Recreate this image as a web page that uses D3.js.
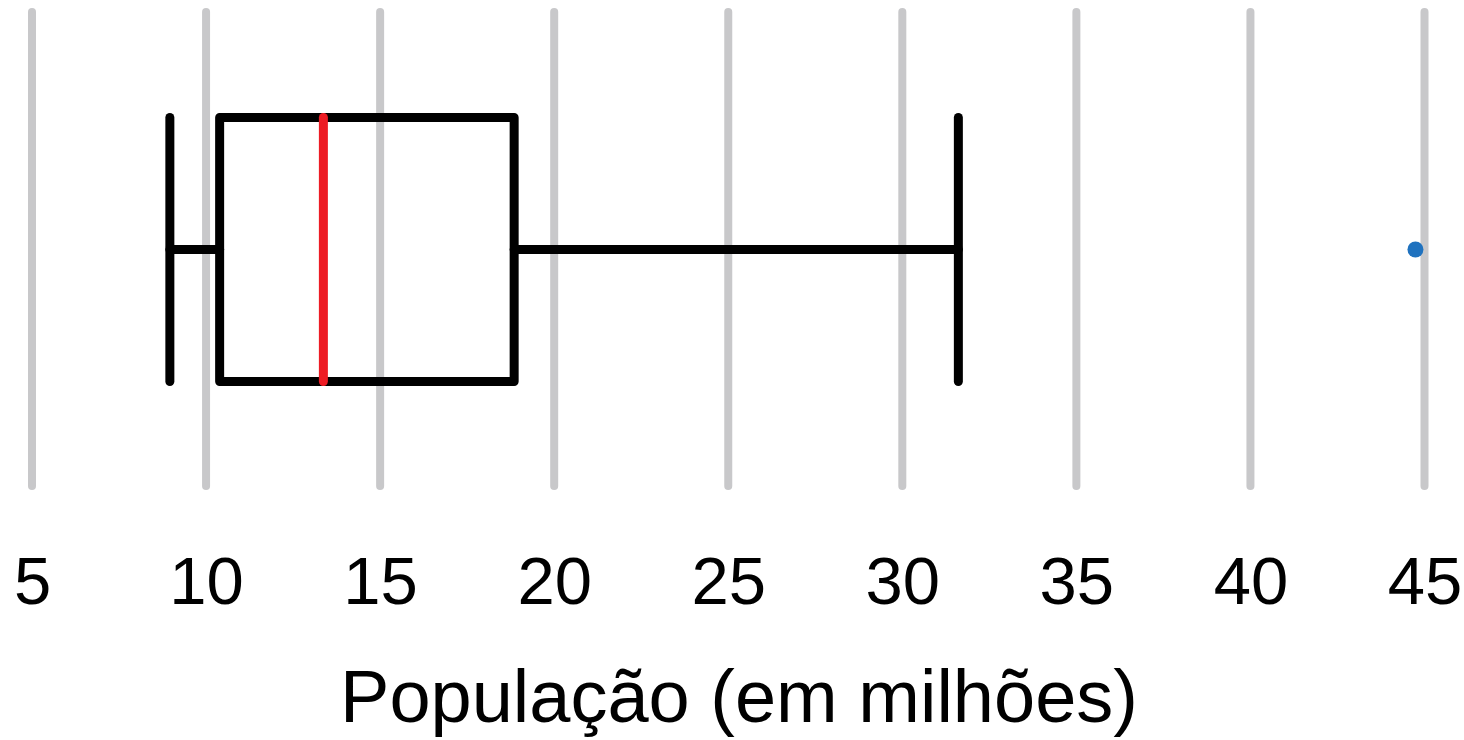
<!DOCTYPE html>
<html>
<head>
<meta charset="utf-8">
<script src="https://cdn.jsdelivr.net/npm/d3@7"></script>
<style>
  html, body { margin: 0; padding: 0; background: #fff; }
  svg { display: block; }
  text { font-family: "Liberation Sans", Arial, Helvetica, sans-serif; fill: #000; }
</style>
</head>
<body>
<div id="chart"></div>
<script>
// tick values along x
var tickValues = [5, 10, 15, 20, 25, 30, 35, 40, 45];

// box summary (millions)
var whiskerLow  = 8.96,
    q1          = 10.39,
    median      = 13.37,
    q3          = 18.85,
    whiskerHigh = 31.61;

// outliers
var outliers = [44.74];

var axisTitle = "População (em milhões)";

var width = 1464,
    height = 740;

// vertical layout
var gridTop = 12,
    gridBottom = 486,
    boxTop = 117.5,
    boxBottom = 381.5,
    midY = 249.5;

var x = d3.scaleLinear()
    .domain([5, 45])
    .range([32, 1424.5]);

var svg = d3.select("#chart").append("svg")
    .attr("width", width)
    .attr("height", height);

// gridlines
svg.append("g")
    .attr("class", "grid")
    .selectAll("line")
    .data(tickValues)
    .enter().append("line")
    .attr("x1", function(d) { return x(d); })
    .attr("x2", function(d) { return x(d); })
    .attr("y1", gridTop)
    .attr("y2", gridBottom)
    .style("stroke", "#c8c8ca")
    .style("stroke-width", 8)
    .style("stroke-linecap", "round");

// tick labels through an axis
var xAxis = d3.axisBottom(x)
    .tickValues(tickValues)
    .tickSize(0)
    .tickPadding(0)
    .tickFormat(d3.format("d"));

var gx = svg.append("g")
    .attr("class", "x-axis")
    .attr("transform", "translate(0,604)")
    .call(xAxis);

gx.select(".domain").remove();
gx.selectAll("text")
    .attr("y", 0)
    .attr("dy", 0)
    .style("font-size", "67px")
    .style("font-family", "'Liberation Sans', Arial, Helvetica, sans-serif")
    .style("fill", "#000");

// box plot
var box = svg.append("g").attr("class", "box");

// whisker lines
box.append("line")
    .attr("x1", x(whiskerLow)).attr("x2", x(q1))
    .attr("y1", midY).attr("y2", midY);
box.append("line")
    .attr("x1", x(q3)).attr("x2", x(whiskerHigh))
    .attr("y1", midY).attr("y2", midY);

// whisker caps
[whiskerLow, whiskerHigh].forEach(function(v) {
    box.append("line")
        .attr("x1", x(v)).attr("x2", x(v))
        .attr("y1", boxTop).attr("y2", boxBottom);
});

// the box
box.append("rect")
    .attr("x", x(q1))
    .attr("y", boxTop)
    .attr("width", x(q3) - x(q1))
    .attr("height", boxBottom - boxTop)
    .style("fill", "none");

box.selectAll("line, rect")
    .style("stroke", "#000")
    .style("stroke-width", 9)
    .style("stroke-linecap", "round")
    .style("stroke-linejoin", "round");

// median
box.append("line")
    .attr("x1", x(median)).attr("x2", x(median))
    .attr("y1", boxTop).attr("y2", boxBottom)
    .style("stroke", "#ed1c24")
    .style("stroke-width", 9)
    .style("stroke-linecap", "round");

// outlier points
svg.append("g")
    .selectAll("circle")
    .data(outliers)
    .enter().append("circle")
    .attr("cx", function(d) { return x(d); })
    .attr("cy", midY)
    .attr("r", 8)
    .style("fill", "#1f72bf");

// axis title
svg.append("text")
    .attr("x", 739)
    .attr("y", 722)
    .attr("text-anchor", "middle")
    .style("font-size", "74px")
    .text(axisTitle);
</script>
</body>
</html>
